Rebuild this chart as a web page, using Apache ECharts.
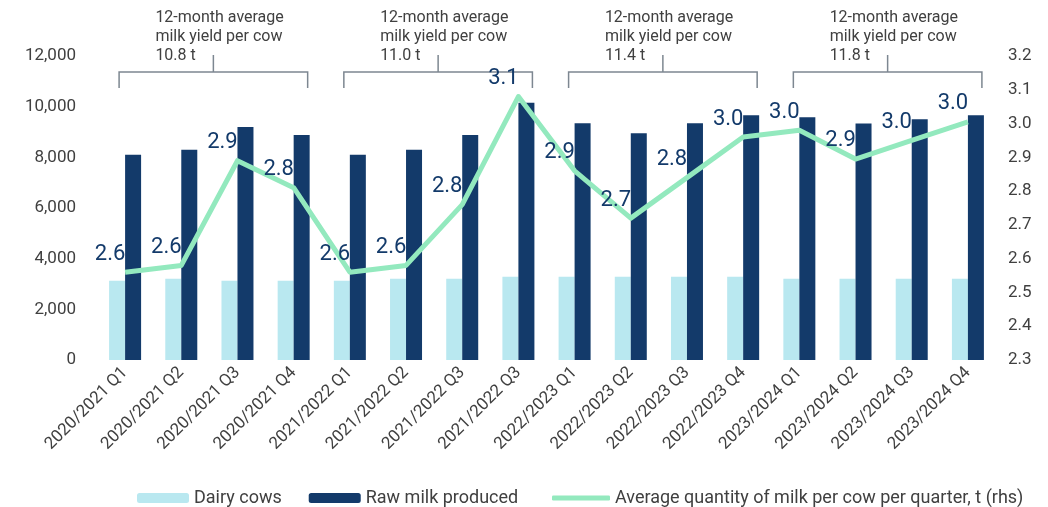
<!DOCTYPE html>
<html>
<head>
<meta charset="utf-8">
<script src="https://cdn.jsdelivr.net/npm/echarts@6/dist/echarts.min.js"></script>
<style>
  html, body { margin: 0; padding: 0; background: #fff; }
  #chart { width: 1048px; height: 507px; }
</style>
</head>
<body>
<div id="chart"></div>
<script>
const quarters = [
  "2020/2021 Q1", "2020/2021 Q2", "2020/2021 Q3", "2020/2021 Q4",
  "2021/2022 Q1", "2021/2022 Q2", "2021/2022 Q3", "2021/2022 Q3",
  "2022/2023 Q1", "2022/2023 Q2", "2022/2023 Q3", "2022/2023 Q4",
  "2023/2024 Q1", "2023/2024 Q2", "2023/2024 Q3", "2023/2024 Q4",
];
const dairyCows = [3130, 3210, 3130, 3130, 3130, 3210, 3210, 3290, 3290, 3290, 3290, 3290, 3210, 3210, 3210, 3210];
const rawMilk = [8100, 8300, 9200, 8880, 8100, 8300, 8880, 10150, 9350, 8950, 9350, 9660, 9580, 9340, 9500, 9660];
const milkPerCow = [2.56, 2.58, 2.89, 2.81, 2.56, 2.58, 2.76, 3.08, 2.86, 2.72, 2.84, 2.96, 2.98, 2.895, 2.95, 3.005];
const yieldGroups = [[0, 3], [4, 7], [8, 11], [12, 15]];
const yieldLabels = ["10.8 t", "11.0 t", "11.4 t", "11.8 t"];

const textColor = "#404040";
const navy = "#133a6a";
const mint = "#93e9be";
const font = "Roboto";
const lineName = "Average quantity of milk per cow per quarter, t (rhs)";

const chart = echarts.init(document.getElementById("chart"));

chart.setOption({
  animation: false,
  textStyle: { fontFamily: font },
  grid: { left: 97, right: 52, top: 56, bottom: 147 },
  legend: [
    {
      left: 132,
      top: 484,
      itemWidth: 52,
      itemHeight: 10,
      itemGap: 27,
      textStyle: { fontFamily: font, fontSize: 18, color: textColor },
      data: ["Dairy cows", "Raw milk produced"],
    },
    {
      left: 547,
      top: 484,
      itemWidth: 58,
      itemHeight: 5,
      icon: "roundRect",
      textStyle: { fontFamily: font, fontSize: 18, color: textColor },
      data: [lineName],
    },
  ],
  xAxis: {
    type: "category",
    data: quarters,
    axisLine: { show: false },
    axisTick: { show: false },
    axisLabel: { rotate: 45, margin: 10, fontSize: 17, color: textColor, interval: 0 },
  },
  yAxis: [
    {
      type: "value",
      min: 0,
      max: 12000,
      interval: 2000,
      splitLine: { show: false },
      axisLabel: {
        fontSize: 17,
        color: textColor,
        margin: 21,
        formatter: (v) => v.toLocaleString("en-US"),
      },
    },
    {
      type: "value",
      min: 2.3,
      max: 3.2,
      interval: 0.1,
      splitLine: { show: false },
      axisLabel: {
        fontSize: 17,
        color: textColor,
        margin: 12,
        formatter: (v) => v.toFixed(1),
      },
    },
  ],
  series: [
    {
      name: "Dairy cows",
      type: "bar",
      data: dairyCows,
      barWidth: 16,
      barGap: "0%",
      itemStyle: { color: "#b9e8f0" },
    },
    {
      name: "Raw milk produced",
      type: "bar",
      data: rawMilk,
      barWidth: 16,
      itemStyle: { color: navy },
    },
    {
      name: lineName,
      type: "line",
      yAxisIndex: 1,
      data: milkPerCow,
      symbol: "circle",
      symbolSize: 0.1,
      z: 5,
      lineStyle: { color: mint, width: 5, join: "round" },
      itemStyle: { color: mint },
      label: {
        show: true,
        position: "top",
        offset: [-15, -2],
        fontSize: 22,
        color: navy,
        formatter: (p) => p.value.toFixed(1),
      },
    },
  ],
});

function drawBrackets() {
  const graphics = [];
  yieldGroups.forEach(([from, to], i) => {
    const left = chart.convertToPixel({ xAxisIndex: 0 }, from) - 6;
    const right = chart.convertToPixel({ xAxisIndex: 0 }, to) + 14;
    const mid = (left + right) / 2;
    const lineStyle = { stroke: "#7d8791", lineWidth: 1.5 };
    graphics.push({
      type: "polyline",
      shape: { points: [[left, 88], [left, 72], [right, 72], [right, 88]] },
      style: lineStyle,
    });
    graphics.push({
      type: "line",
      shape: { x1: mid, y1: 72, x2: mid, y2: 55 },
      style: lineStyle,
    });
    graphics.push({
      type: "text",
      x: mid - 58,
      y: 8,
      style: {
        text: "12-month average\nmilk yield per cow\n" + yieldLabels[i],
        font: "16px Roboto",
        lineHeight: 19,
        fill: textColor,
      },
    });
  });
  chart.setOption({ graphic: graphics });
}

drawBrackets();
</script>
</body>
</html>
